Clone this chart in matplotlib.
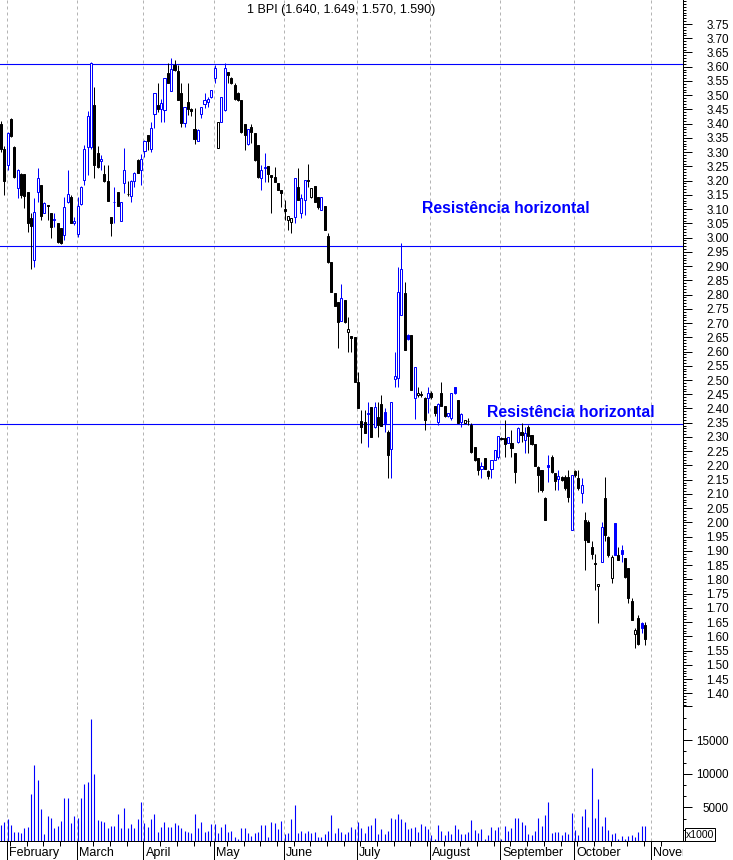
import numpy as np
import matplotlib
matplotlib.use("Agg")
import matplotlib.pyplot as plt
from matplotlib.transforms import Bbox, TransformedBbox, blended_transform_factory, offset_copy

plt.rcParams['font.family'] = ['Liberation Sans', 'DejaVu Sans']

# ---------------- data ----------------
opens = [3.40, 3.31, 3.255, 3.415, 3.317, 3.173, 3.225, 3.223, 3.16, 3.07,
         2.92, 3.16, 3.185, 3.087, 3.113, 3.085, 3.062, 3.05, 3.035, 3.009,
         3.124, 3.144, 3.05, 3.013, 3.118, 3.202, 3.319, 3.319, 3.466, 3.296,
         3.269, 3.223, 3.2, 3.073, 3.124, 3.159, 3.059, 3.19, 3.153, 3.147,
         3.2, 3.272, 3.237, 3.304, 3.359, 3.312, 3.433, 3.466, 3.452, 3.448,
         3.579, 3.516, 3.606, 3.586, 3.507, 3.401, 3.475, 3.451, 3.381, 3.34,
         3.433, 3.468, 3.477, 3.492, 3.559, 3.313, 3.407, 3.448, 3.583, 3.559,
         3.536, 3.507, 3.483, 3.399, 3.329, 3.389, 3.366, 3.325, 3.208, 3.243,
         3.251, 3.22, 3.214, 3.193, 3.167, 3.10, 3.062, 3.056, 3.073, 3.179,
         3.085, 3.132, 3.201, 3.144, 3.181, 3.144, 3.097, 3.111, 3.006, 2.915,
         2.804, 2.775, 2.706, 2.781, 2.67, 2.655, 2.65, 2.494, 2.357, 2.354,
         2.38, 2.404, 2.334, 2.371, 2.416, 2.389, 2.319, 2.257, 2.505, 2.506,
         2.728, 2.804, 2.658, 2.658, 2.436, 2.447, 2.45, 2.436, 2.436, 2.456,
         2.407, 2.354, 2.453, 2.407, 2.372, 2.366, 2.474, 2.43, 2.354, 2.348,
         2.357, 2.342, 2.264, 2.225, 2.186, 2.225, 2.18, 2.186, 2.219, 2.228,
         2.298, 2.295, 2.278, 2.278, 2.243, 2.283, 2.319, 2.289, 2.336, 2.307,
         2.275, 2.196, 2.184, 2.085, 2.202, 2.229, 2.172, 2.154, 2.161, 2.161,
         2.161, 1.973, 2.18, 2.155, 2.104, 2.009, 2.0, 1.915, 1.856, 1.775,
         1.862, 2.085, 1.95, 1.804, 1.997, 1.886, 1.903, 1.874, 1.839, 1.725,
         1.608, 1.663, 1.646, 1.640]
highs = [3.41, 3.32, 3.372, 3.42, 3.32, 3.24, 3.226, 3.223, 3.16, 3.085,
         3.14, 3.245, 3.185, 3.126, 3.114, 3.085, 3.085, 3.05, 3.035, 3.144,
         3.237, 3.15, 3.073, 3.144, 3.18, 3.325, 3.444, 3.618, 3.53, 3.32,
         3.29, 3.255, 3.255, 3.073, 3.179, 3.16, 3.126, 3.316, 3.20, 3.202,
         3.232, 3.275, 3.293, 3.343, 3.362, 3.407, 3.509, 3.542, 3.487, 3.56,
         3.612, 3.632, 3.623, 3.606, 3.542, 3.46, 3.542, 3.454, 3.454, 3.383,
         3.46, 3.509, 3.495, 3.52, 3.606, 3.407, 3.492, 3.612, 3.583, 3.565,
         3.542, 3.513, 3.483, 3.40, 3.383, 3.399, 3.366, 3.325, 3.255, 3.296,
         3.251, 3.22, 3.249, 3.193, 3.167, 3.132, 3.076, 3.07, 3.21, 3.243,
         3.152, 3.202, 3.258, 3.173, 3.181, 3.144, 3.144, 3.111, 3.015, 2.915,
         2.804, 2.775, 2.837, 2.781, 2.722, 2.655, 2.65, 2.529, 2.395, 2.395,
         2.424, 2.404, 2.424, 2.424, 2.447, 2.40, 2.324, 2.424, 2.60, 2.896,
         2.98, 2.845, 2.66, 2.658, 2.545, 2.476, 2.46, 2.442, 2.476, 2.46,
         2.41, 2.418, 2.494, 2.41, 2.385, 2.453, 2.477, 2.43, 2.383, 2.36,
         2.365, 2.348, 2.266, 2.225, 2.213, 2.225, 2.184, 2.219, 2.254, 2.303,
         2.30, 2.36, 2.301, 2.325, 2.243, 2.336, 2.348, 2.336, 2.342, 2.307,
         2.275, 2.198, 2.184, 2.088, 2.237, 2.237, 2.172, 2.184, 2.163, 2.167,
         2.184, 2.167, 2.185, 2.184, 2.155, 2.038, 2.01, 1.933, 1.89, 1.783,
         2.003, 2.161, 1.952, 1.886, 1.999, 1.915, 1.92, 1.874, 1.839, 1.733,
         1.628, 1.675, 1.652, 1.649]
lows = [3.30, 3.15, 3.237, 3.355, 3.21, 3.138, 3.138, 3.103, 3.021, 2.89,
        2.898, 3.126, 3.062, 3.085, 3.062, 2.997, 3.038, 2.982, 2.978, 2.992,
        3.12, 3.05, 3.044, 3.003, 3.115, 3.185, 3.22, 3.31, 3.208, 3.243,
        3.237, 3.196, 3.128, 3.006, 3.05, 3.112, 3.059, 3.155, 3.145, 3.126,
        3.179, 3.226, 3.185, 3.284, 3.308, 3.302, 3.386, 3.442, 3.407, 3.407,
        3.542, 3.516, 3.585, 3.483, 3.39, 3.39, 3.43, 3.428, 3.327, 3.339,
        3.419, 3.454, 3.46, 3.489, 3.542, 3.313, 3.407, 3.446, 3.544, 3.541,
        3.483, 3.48, 3.366, 3.308, 3.325, 3.331, 3.27, 3.21, 3.167, 3.196,
        3.196, 3.085, 3.196, 3.167, 3.109, 3.062, 3.027, 3.017, 3.05, 3.132,
        3.068, 3.079, 3.179, 3.139, 3.126, 3.10, 3.097, 3.027, 2.91, 2.81,
        2.76, 2.611, 2.706, 2.699, 2.60, 2.60, 2.494, 2.40, 2.278, 2.313,
        2.266, 2.299, 2.33, 2.301, 2.34, 2.318, 2.155, 2.155, 2.477, 2.477,
        2.728, 2.605, 2.64, 2.465, 2.362, 2.442, 2.44, 2.325, 2.383, 2.435,
        2.375, 2.342, 2.407, 2.37, 2.37, 2.36, 2.45, 2.348, 2.336, 2.348,
        2.342, 2.243, 2.217, 2.166, 2.155, 2.186, 2.151, 2.155, 2.219, 2.222,
        2.29, 2.231, 2.278, 2.229, 2.137, 2.28, 2.283, 2.243, 2.243, 2.272,
        2.198, 2.108, 2.108, 2.008, 2.143, 2.172, 2.114, 2.114, 2.147, 2.114,
        2.073, 1.973, 2.16, 2.114, 2.069, 1.833, 1.93, 1.87, 1.763, 1.648,
        1.862, 1.933, 1.88, 1.786, 1.886, 1.868, 1.862, 1.804, 1.716, 1.658,
        1.558, 1.57, 1.611, 1.570]
closes = [3.31, 3.20, 3.366, 3.357, 3.214, 3.237, 3.15, 3.145, 3.05, 3.04,
          3.09, 3.21, 3.077, 3.123, 3.111, 3.036, 3.064, 2.983, 2.98, 3.109,
          3.153, 3.052, 3.059, 3.112, 3.179, 3.311, 3.427, 3.612, 3.255, 3.249,
          3.276, 3.20, 3.13, 3.05, 3.126, 3.112, 3.126, 3.237, 3.152, 3.199,
          3.228, 3.226, 3.276, 3.34, 3.338, 3.384, 3.507, 3.45, 3.471, 3.559,
          3.542, 3.591, 3.587, 3.483, 3.401, 3.46, 3.451, 3.446, 3.345, 3.378,
          3.457, 3.483, 3.485, 3.518, 3.594, 3.407, 3.492, 3.594, 3.571, 3.544,
          3.485, 3.482, 3.37, 3.362, 3.38, 3.37, 3.272, 3.214, 3.237, 3.249,
          3.222, 3.214, 3.196, 3.167, 3.158, 3.095, 3.076, 3.07, 3.208, 3.132,
          3.138, 3.202, 3.198, 3.173, 3.126, 3.109, 3.144, 3.027, 2.915, 2.81,
          2.76, 2.705, 2.787, 2.705, 2.678, 2.646, 2.494, 2.40, 2.334, 2.315,
          2.383, 2.299, 2.404, 2.342, 2.34, 2.35, 2.237, 2.424, 2.515, 2.808,
          2.889, 2.605, 2.643, 2.465, 2.545, 2.453, 2.448, 2.36, 2.453, 2.439,
          2.383, 2.416, 2.41, 2.372, 2.383, 2.453, 2.455, 2.35, 2.381, 2.36,
          2.355, 2.248, 2.219, 2.184, 2.198, 2.186, 2.163, 2.219, 2.254, 2.303,
          2.294, 2.275, 2.301, 2.262, 2.178, 2.33, 2.307, 2.313, 2.303, 2.275,
          2.198, 2.166, 2.114, 2.008, 2.193, 2.178, 2.146, 2.163, 2.149, 2.12,
          2.09, 2.167, 2.165, 2.12, 2.131, 1.938, 1.932, 1.89, 1.854, 1.783,
          1.985, 1.956, 1.886, 1.88, 1.886, 1.868, 1.889, 1.807, 1.734, 1.658,
          1.622, 1.573, 1.628, 1.590]
volumes = [2343, 2826, 3309, 2439, 1377, 1377, 1232, 1956, 2101, 7028,
           11278, 9105, 4758, 990, 3743, 3453, 1860, 2246, 2970, 6351,
           6351, 2729, 3743, 3453, 6351, 8477, 8766, 18185, 9926, 3067,
           2970, 2826, 1860, 2246, 2246, 4033, 1860, 4902, 1860, 2584,
           1860, 3309, 5724, 2729, 2101, 3212, 4033, 1377, 2101, 2826,
           2101, 2101, 2681, 2439, 1956, 1521, 1377, 1232, 4033, 1956,
           2826, 1377, 1521, 2536, 2584, 1232, 2101, 2536, 1377, 1521,
           652, 300, 1956, 1956, 1232, 797, 1232, 1377, 2439, 2439,
           652, 2826, 2681, 1715, 2970, 990, 1135, 3260, 5289, 1135,
           1521, 1232, 1521, 1135, 1377, 652, 652, 990, 1521, 3888,
           1232, 1956, 1377, 990, 1377, 2101, 1811, 2826,
           1956, 1232, 2246, 2391, 3405, 1087, 1811, 1087, 1521, 3405,
           3260, 3985, 3260, 2826, 1811, 1956, 2101, 1377, 2536, 2246,
           1811, 942, 300, 2391, 1521, 942, 1521, 1087, 2391, 1811,
           1087, 1087, 1377, 3115, 1666, 1232, 1811, 300, 942, 2101,
           1666, 2101, 300, 2246, 1521, 1956, 3405, 3405, 2826, 2391,
           1087, 942, 1521, 3405, 2246, 3840, 5868, 1232, 1377, 1377,
           942, 1377, 1087, 4130, 1666, 942, 3695, 4709, 2101, 10795,
           3405, 6303, 2246, 3550, 1666, 1087, 1232, 300, 797, 300,
           797, 942, 652, 1377, 2246, 2246]

month_names = ['February', 'March', 'April', 'May', 'June', 'July',
               'August', 'September', 'October', 'November']
month_starts = [2, 23, 43, 64, 85, 107, 129, 150, 172, 195]
resistance_levels = [3.61, 2.97, 2.345]
resistance_label = 'Resistência horizontal'
title_text = '1 BPI (1.640, 1.649, 1.570, 1.590)'

# ---------------- figure ----------------
W, H = 733, 860
BLUE = '#0000ff'
PX = 0.72  # one pixel in points

fig = plt.figure(figsize=(W / 100, H / 100), dpi=100, facecolor='white')
ax = fig.add_axes([0, 155 / H, 683 / W, 705 / H])
axv = fig.add_axes([0, 19 / H, 683 / W, 136 / H], sharex=ax)

o = np.array(opens); h = np.array(highs); l = np.array(lows); c = np.array(closes)
v = np.array(volumes)
x = np.arange(len(c))
prev = np.r_[o[0], c[:-1]]
cols = np.where(c > prev, BLUE, 'black')
hollow = c >= o
faces = np.where(hollow, 'white', cols)

ax.vlines(x, l, h, colors=cols, lw=PX, zorder=3)
ax.bar(x, np.abs(c - o), bottom=np.minimum(o, c), width=0.62,
       color=faces, edgecolor=cols, linewidth=PX, zorder=4)

for lev in resistance_levels:
    ax.axhline(lev, color=BLUE, lw=PX * 1.1, zorder=2)

axv.vlines(x, 0, v, colors=BLUE, lw=PX * 1.1, zorder=3)

grid_kw = dict(color='#b4b4b4', lw=PX, ls=(0, (3, 3)), zorder=1)
for m in month_starts:
    ax.axvline(m - 0.3, **grid_kw)
    axv.axvline(m - 0.3, **grid_kw)

xmin, xmax = -0.3, 204.4
ax.set_xlim(xmin, xmax)
ax.set_ylim(1.3589, 3.8343)
axv.set_ylim(507, 20214)

for a in (ax, axv):
    a.set_facecolor('white')
    a.spines['top'].set_visible(False)
    a.spines['left'].set_visible(False)
    a.spines['right'].set_linewidth(PX)
    a.yaxis.tick_right()
ax.spines['bottom'].set_visible(False)
axv.spines['bottom'].set_linewidth(PX)

# price axis
price_ticks = np.round(np.arange(1.40, 3.7501, 0.05), 2)
ax.set_yticks(price_ticks)
ax.set_yticklabels(['%.2f' % t for t in price_ticks])
ax.set_yticks(np.round(np.arange(1.36, 3.835, 0.01), 2), minor=True)
ax.tick_params(axis='x', which='both', bottom=False, labelbottom=False)

# volume axis
axv.set_yticks([5000, 10000, 15000, 20000])
axv.set_yticklabels(['5000', '10000', '15000', ''])
axv.set_yticks(np.arange(0, 20300, 5000 / 3), minor=True)

for a in (ax, axv):
    a.tick_params(axis='y', which='major', direction='out', length=6.5, width=PX,
                  labelsize=8.4, pad=26.6, right=True, left=False)
    a.tick_params(axis='y', which='minor', direction='out', length=2.5, width=PX,
                  right=True, left=False)
    for lbl in a.get_yticklabels():
        lbl.set_horizontalalignment('right')

# x-axis (months)
axv.set_xticks([m - 0.3 for m in month_starts])
axv.set_xticklabels([])
axv.set_xticks(np.arange(3, 200, 5) - 0.3, minor=True)
axv.tick_params(axis='x', which='major', direction='out', length=14, width=PX)
axv.tick_params(axis='x', which='minor', direction='out', length=3.6, width=PX)

clipbox = TransformedBbox(Bbox([[0, 0], [683 / W, 1]]), fig.transFigure)
trans = offset_copy(blended_transform_factory(axv.transData, fig.transFigure),
                    fig=fig, x=2, y=0, units='dots')
for m, name in zip(month_starts, month_names):
    t = fig.text(m - 0.3, (H - 853) / H, name, transform=trans, ha='left',
                 va='center', fontsize=9)
    t.set_clip_box(clipbox)
    t.set_clip_on(True)

# x1000 box
fig.text(700 / W, (H - 834.5) / H, 'x1000', ha='center', va='center', fontsize=7.5,
         bbox=dict(boxstyle='square,pad=0.12', fc='white', ec='black', lw=PX))

# title
fig.text(341 / W, (H - 10) / H, title_text, ha='center', va='center', fontsize=9)

# annotations
ax.text(126.2, 3.085, resistance_label, color=BLUE, fontsize=11.3,
        fontweight='bold', ha='left', va='baseline', zorder=5)
ax.text(145.6, 2.369, resistance_label, color=BLUE, fontsize=11.3,
        fontweight='bold', ha='left', va='baseline', zorder=5)

fig.savefig('out.png', dpi=100, facecolor='white')
